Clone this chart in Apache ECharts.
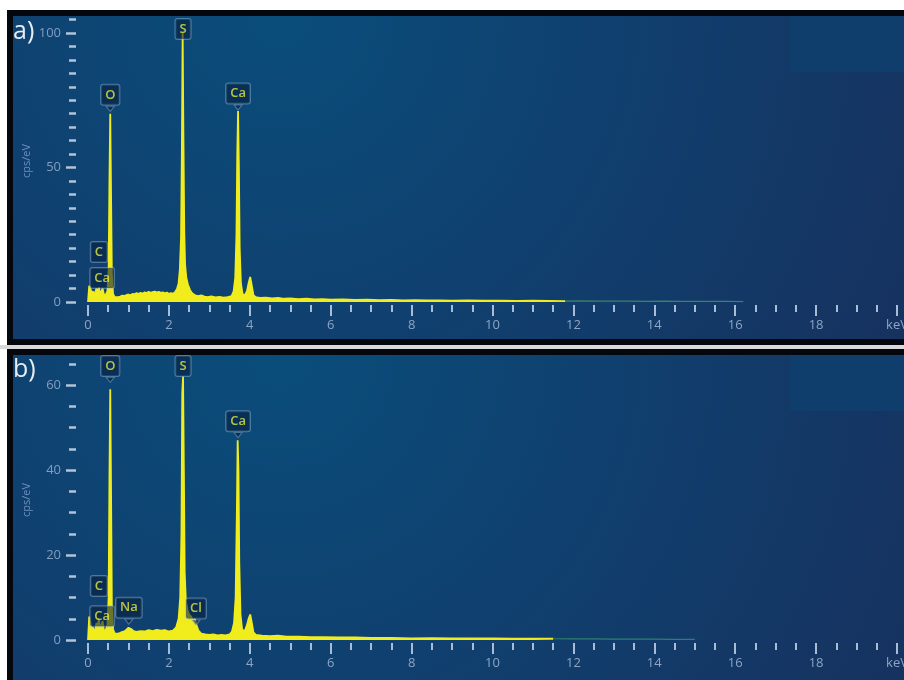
<!DOCTYPE html>
<html><head><meta charset="utf-8">
<script src="https://cdn.jsdelivr.net/npm/echarts@6/dist/echarts.min.js"></script>
<style>html,body{margin:0;padding:0;background:#fff}#c{width:904px;height:680px}</style>
</head><body><div id="c"></div><script>
// ---- Spectrum a) ----
const energyA = [0.00,0.03,0.06,0.09,0.12,0.15,0.18,0.21,0.24,0.27,0.30,0.33,0.36,0.39,0.42,0.45,0.48,0.51,0.53,0.55,0.57,0.59,0.62,0.66,0.70,0.75,0.80,0.85,0.90,0.95,1.00,1.05,1.10,1.15,1.20,1.25,1.30,1.35,1.40,1.45,1.50,1.55,1.60,1.65,1.70,1.75,1.80,1.85,1.90,1.95,2.00,2.05,2.10,2.15,2.20,2.24,2.27,2.30,2.32,2.34,2.36,2.38,2.40,2.43,2.47,2.52,2.58,2.65,2.72,2.80,2.88,2.96,3.05,3.15,3.25,3.35,3.45,3.55,3.60,3.64,3.67,3.69,3.71,3.73,3.75,3.78,3.82,3.88,3.93,3.97,4.01,4.05,4.09,4.15,4.25,4.40,4.55,4.70,4.85,5.0,5.2,5.4,5.6,5.8,6.0,6.3,6.6,6.9,7.2,7.5,7.8,8.1,8.4,8.7,9.0,9.4,9.8,10.2,10.6,11.0,11.4,11.8,12.2,12.6,13.0,13.4,13.8,14.2,14.6,15.0,15.4,15.8,16.2];
const cpsA    = [0,6,5,3,4,2.5,3,5,3.5,5.5,2.5,4,5,3,2,2.5,4,12,45,70,40,10,3,1.8,1.5,1.8,2.0,2.4,2.2,2.6,2.8,2.5,3.0,2.9,3.3,3.0,3.4,3.1,3.6,3.3,3.8,3.4,3.7,3.9,3.5,3.8,3.4,3.6,3.2,3.5,3.0,3.3,3.1,3.6,4.8,7,12,24,55,100,60,26,14,9,6.5,4.5,3.2,2.5,2.2,2.5,2.0,1.8,2.1,1.7,1.9,1.6,1.8,2.2,4,9,25,55,71,50,20,7,3,2.5,4,7,9.3,6,2.5,1.8,1.5,1.6,1.3,1.5,1.2,1.3,1.1,1.2,1.0,1.1,0.9,1.0,0.8,0.9,0.7,0.8,0.6,0.7,0.6,0.6,0.5,0.6,0.5,0.5,0.4,0.5,0.4,0.3,0.4,0.3,0.3,0.35,0.25,0.3,0.25,0.2,0.25,0.2,0.15];
// ---- Spectrum b) ----
const energyB = [0.00,0.03,0.06,0.09,0.12,0.15,0.18,0.21,0.24,0.27,0.30,0.33,0.36,0.39,0.42,0.45,0.48,0.51,0.53,0.55,0.57,0.59,0.62,0.66,0.70,0.75,0.80,0.85,0.90,0.95,1.00,1.04,1.08,1.13,1.20,1.30,1.40,1.50,1.60,1.70,1.80,1.90,2.00,2.10,2.18,2.24,2.28,2.31,2.33,2.35,2.37,2.39,2.42,2.46,2.50,2.55,2.60,2.64,2.68,2.73,2.80,2.90,3.00,3.10,3.20,3.30,3.40,3.50,3.56,3.61,3.65,3.68,3.70,3.72,3.74,3.77,3.81,3.87,3.93,3.97,4.01,4.05,4.09,4.15,4.3,4.5,4.7,4.9,5.2,5.5,5.8,6.2,6.6,7.0,7.5,8.0,8.5,9.0,9.5,10.0,10.5,11.0,11.5,12.0,12.5,13.0,13.5,14.0,14.5,15.0];
const cpsB    = [0,5.5,4,2.5,3,2,2.5,4,3,5,2,3.5,4.5,2.5,1.8,2,3.5,10,38,59,35,8,2.5,1.5,1.3,1.5,1.7,1.9,2.0,2.4,2.9,3.0,2.5,2.1,1.9,2.1,2.0,2.3,2.1,2.4,2.2,2.3,2.0,2.2,3.0,5,10,25,58,62,40,16,9,7,6,5.5,4.5,5,3.5,2.2,1.5,1.3,1.2,1.3,1.1,1.2,1.1,1.3,2,4,10,30,47,40,18,6,2.5,2,3.5,5,6,4,1.8,1.2,1.0,0.9,1.0,0.8,0.8,0.7,0.7,0.6,0.6,0.5,0.5,0.4,0.45,0.4,0.35,0.35,0.3,0.3,0.3,0.25,0.25,0.2,0.2,0.2,0.15,0.15];
// ---- Axis tick labels ----
const yMajorA = [0,50,100];
const yMinorA = [5,10,15,20,25,30,35,40,45,55,60,65,70,75,80,85,90,95,105];
const yMajorB = [0,20,40,60];
const yMinorB = [5,10,15,25,30,35,45,50,55,65];
// ---- Peak annotations (element, keV, label anchor cps, has pointer) ----
const peakNamesA = ['S','O','Ca','C','Ca'];
const peakKeVA   = [2.35,0.55,3.71,0.27,0.35];
const labelCpsA  = [101.5,77,77.5,18.6,8.9];
const pointerA   = [false,true,true,false,false];
const peakNamesB = ['O','S','Ca','C','Ca','Na','Cl'];
const peakKeVB   = [0.55,2.35,3.71,0.27,0.35,1.01,2.67];
const labelCpsB  = [64.5,64.5,51.5,12.7,5.6,7.6,7.4];
const pointerB   = [true,false,true,false,false,true,true];
const TAIL_KEV = 11.8; // beyond this the trace is drawn dim

const FONT = 'Open Sans';
const bgGrad = {type:'radial', x:0.3, y:0, r:2.4, colorStops:[
  {offset:0,color:'#0a4d7b'},{offset:0.45,color:'#103f6e'},{offset:1,color:'#182f5c'}]};

function xAxisFor(gi){
  return {type:'value', gridIndex:gi, min:0, max:20, interval:2, offset:3, z:20,
    axisLine:{show:false, onZero:false},
    axisTick:{show:true, length:11, lineStyle:{color:'#a9bcd6', width:2}},
    minorTick:{show:true, splitNumber:4, length:7, lineStyle:{color:'#a9bcd6', width:2}},
    splitLine:{show:false}, minorSplitLine:{show:false},
    axisLabel:{margin:14, color:'#8ca5c7', fontSize:13, fontFamily:FONT,
      formatter:v=> v===20?'keV':String(v)}};
}
function yAxesFor(gi, max, major, minor){
  return [
    {type:'value', gridIndex:gi, position:'left', min:0, max:max, offset:12, z:20,
      axisLine:{show:false, onZero:false}, splitLine:{show:false},
      axisTick:{show:true, length:10, customValues:major, lineStyle:{color:'#b3c3d8', width:2.5}},
      axisLabel:{margin:15, color:'#829dc2', fontSize:13, fontFamily:FONT, customValues:major}},
    {type:'value', gridIndex:gi, position:'left', min:0, max:max, offset:12, z:20,
      axisLine:{show:false, onZero:false}, splitLine:{show:false},
      axisLabel:{show:true, color:'rgba(0,0,0,0)', fontSize:1, customValues:minor},
      axisTick:{show:true, length:7, customValues:minor, lineStyle:{color:'#b3c3d8', width:2.5}}}
  ];
}
function spectrumParts(xi, yi, e, c, tailColor){
  const head = [], tail = [];
  e.forEach((x,i)=>{ if (x<=TAIL_KEV) head.push([x,c[i]]); else tail.push([x,c[i]]); });
  if (head.length && tail.length) tail.unshift(head[head.length-1]);
  const base = {type:'line', xAxisIndex:xi, yAxisIndex:yi, symbol:'none', sampling:false, silent:true, z:3};
  return [
    Object.assign({}, base, {data:head, lineStyle:{width:1.8, color:'#f1ed1d'}, itemStyle:{color:'#f1ed1d'}, areaStyle:{opacity:1, color:'#f1ed1d'}}),
    Object.assign({}, base, {data:tail, lineStyle:{width:1.2, color:tailColor}, itemStyle:{color:tailColor}})
  ];
}
const boxBg = 'rgba(6,30,60,0.72)', boxBorder = 'rgba(150,180,210,0.6)';
function labels(xi, yi, names, kev, cps){
  return {type:'scatter', xAxisIndex:xi, yAxisIndex:yi, symbolSize:0.1, silent:true, z:10,
    itemStyle:{color:'rgba(0,0,0,0)'},
    data:names.map((n,i)=>({name:n, value:[kev[i], cps[i]]})),
    label:{show:true, position:'inside', formatter:'{b}', color:'#e9e73c', fontSize:13, fontWeight:600,
      fontFamily:FONT, backgroundColor:boxBg, borderColor:boxBorder,
      borderWidth:1, borderRadius:2, padding:[4,4,3,4]}};
}
function pointers(xi, yi, names, kev, cps, flags){
  const d = [];
  names.forEach((n,i)=>{ if (flags[i]) d.push([kev[i], cps[i]]); });
  return {type:'scatter', xAxisIndex:xi, yAxisIndex:yi, silent:true, z:9,
    symbol:'triangle', symbolRotate:180, symbolSize:[8,5], symbolOffset:[0,14],
    itemStyle:{color:boxBg, borderColor:boxBorder, borderWidth:1}, data:d};
}

const chart = echarts.init(document.getElementById('c'), null, {renderer:'canvas'});
chart.setOption({
  animation:false,
  backgroundColor:'#ffffff',
  graphic:[
    {type:'rect', z:-5, shape:{x:7,y:10,width:897,height:336}, style:{fill:'#04080e'}},
    {type:'rect', z:-4, shape:{x:13,y:16,width:891,height:323}, style:{fill:bgGrad}},
    {type:'rect', z:-3, shape:{x:790,y:16,width:114,height:56}, style:{fill:'#0f3e6c'}},
    {type:'rect', z:-5, shape:{x:0,y:345,width:904,height:4}, style:{fill:'#d9d9d9'}},
    {type:'rect', z:-5, shape:{x:7,y:349,width:897,height:331}, style:{fill:'#04080e'}},
    {type:'rect', z:-4, shape:{x:13,y:355,width:891,height:325}, style:{fill:bgGrad}},
    {type:'rect', z:-3, shape:{x:790,y:355,width:114,height:56}, style:{fill:'#0f3e6c'}},
    {type:'text', z:1, left:13, top:19, style:{text:'a)', fill:'#e6ecf3', font:'25px "Open Sans"'}},
    {type:'text', z:1, left:13, top:357, style:{text:'b)', fill:'#e6ecf3', font:'25px "Open Sans"'}},
    {type:'text', z:1, x:27, y:161, rotation:Math.PI/2, style:{text:'cps/eV', fill:'#6f8fb9', font:'11px "Open Sans"', align:'center', verticalAlign:'middle'}},
    {type:'text', z:1, x:27, y:500, rotation:Math.PI/2, style:{text:'cps/eV', fill:'#6f8fb9', font:'11px "Open Sans"', align:'center', verticalAlign:'middle'}}
  ],
  grid:[
    {left:88, right:7, top:16, height:286, outerBoundsMode:'none', containLabel:false},
    {left:88, right:7, top:355, height:285, outerBoundsMode:'none', containLabel:false}
  ],
  xAxis:[xAxisFor(0), xAxisFor(1)],
  yAxis:[...yAxesFor(0, 106.3, yMajorA, yMinorA), ...yAxesFor(1, 67.06, yMajorB, yMinorB)],
  series:[
    ...spectrumParts(0,0,energyA,cpsA,'#3a8466'),
    ...spectrumParts(1,2,energyB,cpsB,'#2f8070'),
    labels(0,0,peakNamesA,peakKeVA,labelCpsA),
    labels(1,2,peakNamesB,peakKeVB,labelCpsB),
    pointers(0,0,peakNamesA,peakKeVA,labelCpsA,pointerA),
    pointers(1,2,peakNamesB,peakKeVB,labelCpsB,pointerB)
  ]
});
</script></body></html>
